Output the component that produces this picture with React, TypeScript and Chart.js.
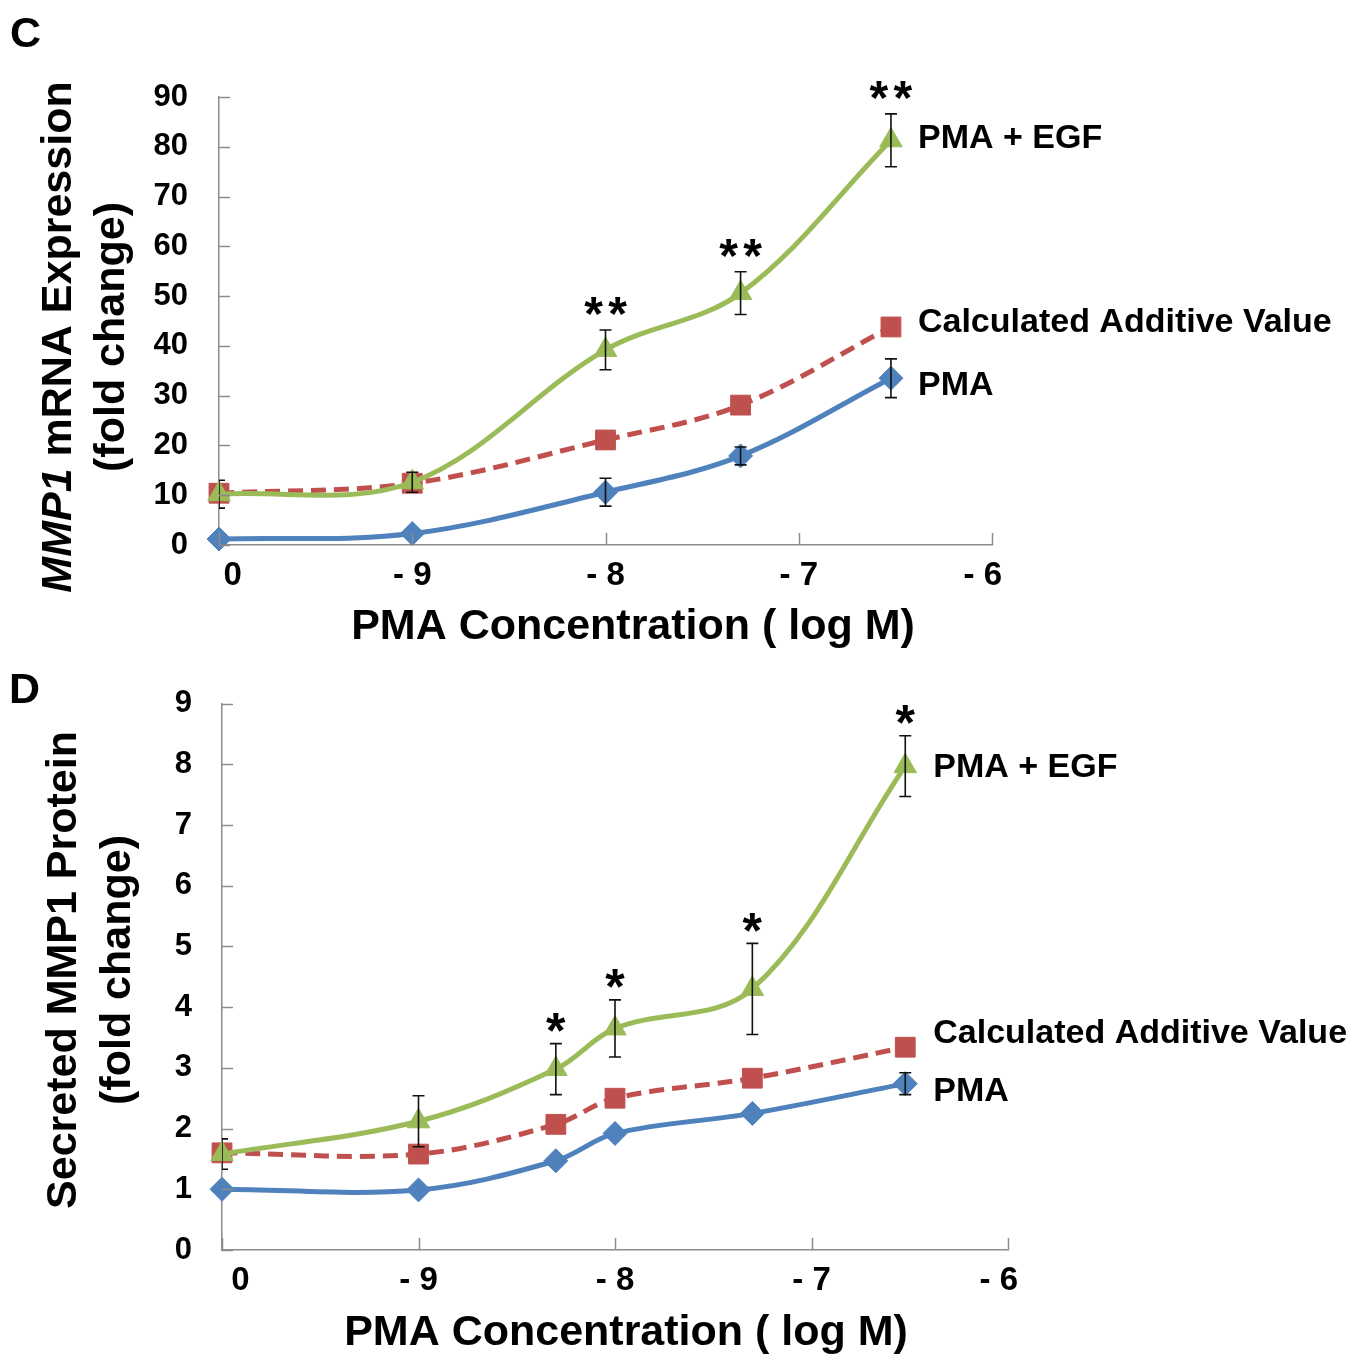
import React, { useEffect, useRef } from "react";
import { Chart, registerables } from "chart.js";

Chart.register(...registerables);

const FONT = '"Liberation Sans", Arial, Helvetica, sans-serif';
const GREEN = "#9BBB59";
const RED = "#C0504D";
const BLUE = "#4F81BD";
const AXIS = "#8c8c8c";

// ---------- data ----------
const xTickLabels = ["0", "- 9", "- 8", "- 7", "- 6"];
const seriesNames = ["PMA + EGF", "Calculated Additive Value", "PMA"];

// Panel C: MMP1 mRNA expression (fold change)
const concC = [0, 1e-9, 1e-8, 5e-8, 3e-7]; // PMA concentration, M (0 = no PMA)
const egfC = [10.2, 12.6, 39.2, 50.6, 81.3];
const egfErrC = [2.8, 2.0, 4.0, 4.3, 5.3];
const additiveC = [10.4, 12.4, 21.1, 28.1, 43.8];
const pmaC = [1.2, 2.3, 10.6, 17.9, 33.5];
const pmaErrC = [0, 0, 2.8, 1.8, 3.9];
const sigC = ["", "", "**", "**", "**"];

// Panel D: secreted MMP1 protein (fold change)
const concD = [0, 1e-9, 5e-9, 1e-8, 5e-8, 3e-7];
const egfD = [1.58, 2.12, 2.98, 3.65, 4.3, 7.97];
const egfErrD = [0.25, 0.42, 0.42, 0.47, 0.75, 0.5];
const additiveD = [1.6, 1.58, 2.07, 2.5, 2.83, 3.34];
const pmaD = [1.0, 0.99, 1.47, 1.92, 2.25, 2.74];
const pmaErrD = [0, 0, 0, 0, 0, 0.18];
const sigD = ["", "", "*", "*", "*", "*"];

// ---------- helpers ----------
const toPos = (c: number) => (c === 0 ? 0 : Math.log10(c) + 10);
const pts = (conc: number[], vals: number[]) =>
  conc.map((c, i) => ({ x: toPos(c), y: vals[i] }));

const bold = (size: number, italic = false) =>
  `${italic ? "italic " : ""}bold ${size}px ${FONT}`;

function drawInkCentered(ctx: CanvasRenderingContext2D, text: string, cx: number, cy: number) {
  const m = ctx.measureText(text);
  const asc = m.actualBoundingBoxAscent;
  const desc = m.actualBoundingBoxDescent;
  const baseline = cy - (desc - asc) / 2;
  ctx.textAlign = "center";
  ctx.textBaseline = "alphabetic";
  ctx.fillText(text, cx, baseline);
}

const figurePlugin = {
  id: "figureText",
  afterDatasetsDraw(chart: any, _args: any, opts: any) {
    const { ctx, chartArea: a } = chart;
    const xs = chart.scales.x;
    const ys = chart.scales.y;
    // error bars
    ctx.save();
    ctx.beginPath();
    ctx.rect(a.left, 0, a.right - a.left + 20, chart.height);
    ctx.clip();
    ctx.strokeStyle = "#111";
    ctx.lineWidth = 1.6;
    chart.data.datasets.forEach((ds: any) => {
      if (!ds.errors) return;
      ds.data.forEach((p: any, i: number) => {
        const e = ds.errors[i];
        if (!e) return;
        const x = xs.getPixelForValue(p.x);
        const yt = ys.getPixelForValue(p.y + e);
        const yb = ys.getPixelForValue(p.y - e);
        ctx.beginPath();
        ctx.moveTo(x, yt);
        ctx.lineTo(x, yb);
        ctx.moveTo(x - 6, yt);
        ctx.lineTo(x + 6, yt);
        ctx.moveTo(x - 6, yb);
        ctx.lineTo(x + 6, yb);
        ctx.stroke();
      });
    });
    ctx.restore();

    // significance stars
    ctx.save();
    ctx.fillStyle = "#000";
    ctx.font = bold(opts.starSize);
    chart.data.datasets.forEach((ds: any) => {
      if (!ds.sig) return;
      ds.data.forEach((p: any, i: number) => {
        const s: string = ds.sig[i];
        if (!s) return;
        const e = ds.errors ? ds.errors[i] : 0;
        const x = xs.getPixelForValue(p.x);
        const yt = ys.getPixelForValue(p.y + e);
        const n = s.length;
        for (let k = 0; k < n; k++) {
          const cx = x + (k - (n - 1) / 2) * opts.starSpacing;
          drawInkCentered(ctx, "*", cx, yt - opts.starGap);
        }
      });
    });
    ctx.restore();

    // series labels at the end of each line
    ctx.save();
    ctx.fillStyle = "#000";
    ctx.font = bold(opts.labelSize);
    ctx.textAlign = "left";
    ctx.textBaseline = "middle";
    chart.data.datasets.forEach((ds: any, i: number) => {
      const p = ds.data[ds.data.length - 1];
      const x = xs.getPixelForValue(p.x) + opts.labelDx;
      const y = ys.getPixelForValue(p.y) + opts.labelDy[i];
      ctx.fillText(ds.label, x, y);
    });
    ctx.restore();
  },
  afterDraw(chart: any, _args: any, opts: any) {
    const { ctx, chartArea: a } = chart;
    const xs = chart.scales.x;
    const ys = chart.scales.y;
    // inward tick marks
    ctx.save();
    ctx.strokeStyle = AXIS;
    ctx.lineWidth = 1.5;
    ys.ticks.forEach((t: any) => {
      const y = Math.round(ys.getPixelForValue(t.value)) + 0.5;
      ctx.beginPath();
      ctx.moveTo(a.left, y);
      ctx.lineTo(a.left + 11, y);
      ctx.stroke();
    });
    xs.ticks.forEach((t: any) => {
      const x = Math.round(xs.getPixelForValue(t.value)) + 0.5;
      ctx.beginPath();
      ctx.moveTo(x, a.bottom);
      ctx.lineTo(x, a.bottom - 12);
      ctx.stroke();
    });
    ctx.restore();

    ctx.save();
    ctx.fillStyle = "#000";
    // panel letter
    ctx.font = bold(opts.letterSize);
    ctx.textAlign = "left";
    ctx.textBaseline = "alphabetic";
    ctx.fillText(opts.letter, opts.letterX, opts.letterY);

    // x title
    ctx.font = bold(opts.titleSize);
    ctx.textAlign = "center";
    ctx.textBaseline = "middle";
    ctx.fillText(opts.xTitle, opts.xTitleX, opts.xTitleY);

    // y title (two rotated lines, first may contain italic segments)
    opts.yTitle.forEach((line: any[], li: number) => {
      ctx.save();
      ctx.translate(opts.yTitleX[li], opts.yTitleY);
      ctx.rotate(-Math.PI / 2);
      let total = 0;
      const widths = line.map((seg: any) => {
        ctx.font = bold(opts.titleSize, seg.italic);
        const w = ctx.measureText(seg.text).width;
        total += w;
        return w;
      });
      let x = -total / 2;
      ctx.textAlign = "left";
      ctx.textBaseline = "middle";
      line.forEach((seg: any, si: number) => {
        ctx.font = bold(opts.titleSize, seg.italic);
        ctx.fillText(seg.text, x, 0);
        x += widths[si];
      });
      ctx.restore();
    });
    ctx.restore();
  },
};

function makeConfig(p: any): any {
  const W = 1371;
  return {
    type: "line",
    data: {
      datasets: [
        {
          label: seriesNames[0],
          data: pts(p.conc, p.egf),
          errors: p.egfErr,
          sig: p.sig,
          borderColor: GREEN,
          backgroundColor: GREEN,
          borderWidth: 5,
          tension: 0.35,
          pointStyle: "triangle",
          pointRadius: 13,
          pointBackgroundColor: GREEN,
          pointBorderColor: GREEN,
          pointBorderWidth: 1,
          clip: false,
        },
        {
          label: seriesNames[1],
          data: pts(p.conc, p.additive),
          borderColor: RED,
          backgroundColor: RED,
          borderWidth: 5,
          borderDash: [15, 8],
          tension: 0.35,
          pointStyle: "rect",
          pointRadius: 14,
          pointBackgroundColor: RED,
          pointBorderColor: RED,
          pointBorderWidth: 1,
          clip: false,
        },
        {
          label: seriesNames[2],
          data: pts(p.conc, p.pma),
          errors: p.pmaErr,
          borderColor: BLUE,
          backgroundColor: BLUE,
          borderWidth: 5,
          tension: 0.35,
          pointStyle: "rectRot",
          pointRadius: 12,
          pointBackgroundColor: BLUE,
          pointBorderColor: BLUE,
          pointBorderWidth: 1,
          clip: false,
        },
      ],
    },
    options: {
      responsive: false,
      animation: false,
      events: [],
      layout: {
        padding: { left: 0, top: p.area.top, right: W - p.area.right, bottom: 0 },
      },
      plugins: {
        legend: { display: false },
        tooltip: { enabled: false },
        figureText: p.text,
      },
      scales: {
        x: {
          type: "linear",
          min: 0,
          max: 4,
          afterFit: (s: any) => {
            s.height = p.height - p.area.bottom;
          },
          grid: { display: false, drawTicks: false },
          border: { display: true, color: AXIS, width: 1.5 },
          ticks: {
            stepSize: 1,
            padding: 11,
            maxRotation: 0,
            autoSkip: false,
            color: "#000",
            font: { family: FONT, size: 33, weight: "bold" },
            callback: (v: number) => {
              const s = xTickLabels[v] ?? "";
              if (v === 0) return " ".repeat(p.firstPad) + s;
              if (v === xTickLabels.length - 1) return s + " ".repeat(p.lastPad);
              return s;
            },
          },
        },
        y: {
          type: "linear",
          min: 0,
          max: p.yMax,
          afterFit: (s: any) => {
            s.width = p.area.left;
          },
          grid: { display: false, drawTicks: false },
          border: { display: true, color: AXIS, width: 1.5 },
          ticks: {
            stepSize: p.yStep,
            padding: p.yPad,
            color: "#000",
            font: { family: FONT, size: 31, weight: "bold" },
          },
        },
      },
    },
    plugins: [figurePlugin],
  };
}

const panelC = {
  height: 655,
  conc: concC,
  egf: egfC,
  egfErr: egfErrC,
  additive: additiveC,
  pma: pmaC,
  pmaErr: pmaErrC,
  sig: sigC,
  yMax: 90,
  yStep: 10,
  yPad: 31,
  firstPad: 3,
  lastPad: 2,
  area: { left: 219, right: 992, top: 97, bottom: 545 },
  text: {
    letter: "C",
    letterSize: 43,
    letterX: 10,
    letterY: 47,
    titleSize: 43,
    xTitle: "PMA Concentration ( log M)",
    xTitleX: 633,
    xTitleY: 627,
    yTitle: [
      [
        { text: "MMP1", italic: true },
        { text: " mRNA Expression", italic: false },
      ],
      [{ text: "(fold change)", italic: false }],
    ],
    yTitleX: [59, 112],
    yTitleY: 337,
    starSize: 48,
    starSpacing: 24,
    starGap: 24,
    labelSize: 34,
    labelDx: 27,
    labelDy: [-2, -4, 7],
  },
};

const panelD = {
  height: 700,
  conc: concD,
  egf: egfD,
  egfErr: egfErrD,
  additive: additiveD,
  pma: pmaD,
  pmaErr: pmaErrD,
  sig: sigD,
  yMax: 9,
  yStep: 1,
  yPad: 30,
  firstPad: 4,
  lastPad: 2,
  area: { left: 222, right: 1008, top: 43, bottom: 595 },
  text: {
    letter: "D",
    letterSize: 43,
    letterX: 9,
    letterY: 48,
    titleSize: 43,
    xTitle: "PMA Concentration ( log M)",
    xTitleX: 626,
    xTitleY: 678,
    yTitle: [
      [{ text: "Secreted MMP1 Protein", italic: false }],
      [{ text: "(fold change)", italic: false }],
    ],
    yTitleX: [64, 118],
    yTitleY: 315,
    starSize: 50,
    starSpacing: 26,
    starGap: 21,
    labelSize: 34,
    labelDx: 28,
    labelDy: [1, -14, 8],
  },
};

function Panel({ panel }: { panel: any }) {
  const ref = useRef<HTMLCanvasElement>(null);
  useEffect(() => {
    if (!ref.current) return;
    const chart = new Chart(ref.current, makeConfig(panel));
    return () => chart.destroy();
  }, [panel]);
  return (
    <canvas
      ref={ref}
      width={1371}
      height={panel.height}
      style={{ display: "block", width: 1371, height: panel.height }}
    />
  );
}

export default function App() {
  return (
    <div
      style={{
        position: "absolute",
        left: 0,
        top: 0,
        width: 1371,
        height: 1355,
        background: "#fff",
        overflow: "hidden",
      }}
    >
      <Panel panel={panelC} />
      <Panel panel={panelD} />
    </div>
  );
}
